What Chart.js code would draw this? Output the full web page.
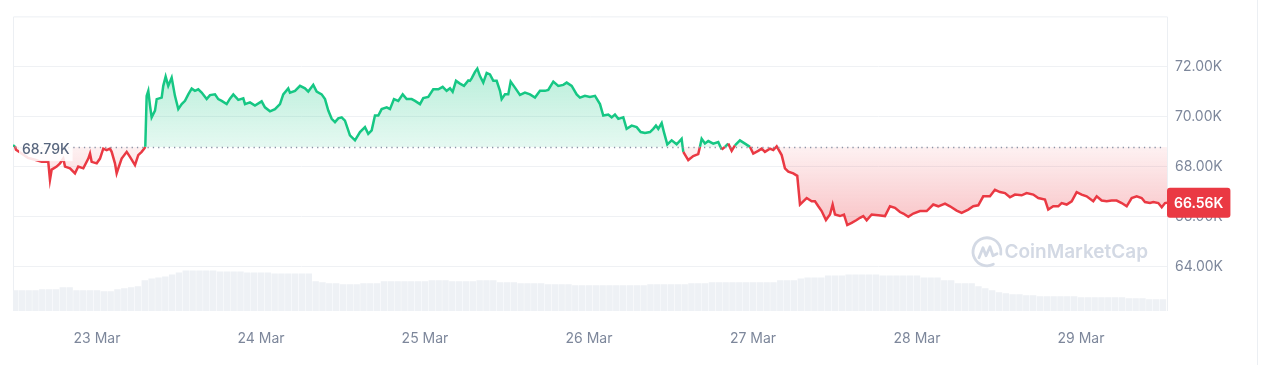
<!DOCTYPE html>
<html>
<head>
    <title>BTC price, 7 days</title>
    <meta charset="utf-8">
    <script src="https://cdn.jsdelivr.net/npm/chart.js"></script>
    <style>
        html, body {
            margin: 0;
            padding: 0;
            background: #ffffff;
        }

        #chart-container {
            position: absolute;
            top: 0;
            left: 0;
            width: 1257px;
            height: 365px;
            border-right: 1px solid #eceff3;
        }
    </style>
</head>
<body>
    <div id="chart-container">
        <canvas id="priceChart"></canvas>
    </div>
    <script>
        // hours relative to 23 Mar 00:00 and price in thousands USD
        var TIMES = [
            -12.29, -12.00, -11.85, -10.98, -10.10, -9.07, -8.09, -7.13, -6.88, -6.63,
            -5.90, -5.41, -4.93, -4.68, -3.95, -3.22, -2.74, -2.00, -1.27, -1.02,
            -0.78, -0.04, 0.44, 0.92, 1.42, 1.90, 2.15, 2.63, 2.88, 3.12,
            3.61, 4.35, 4.83, 5.56, 6.04, 6.54, 6.92, 7.07, 7.27, 7.51,
            7.76, 8.00, 8.49, 8.74, 9.47, 9.70, 10.05, 10.43, 10.93, 11.41,
            11.90, 12.40, 12.88, 13.36, 13.86, 14.34, 14.82, 15.32, 16.05, 16.54,
            17.27, 17.75, 18.25, 18.98, 19.46, 19.95, 20.68, 21.41, 21.66, 22.39,
            23.12, 24.10, 24.58, 25.32, 26.05, 26.78, 27.26, 27.99, 28.24, 28.98,
            29.71, 30.44, 30.92, 31.65, 32.15, 32.88, 33.37, 33.85, 34.35, 34.83,
            35.31, 35.81, 36.29, 37.02, 37.76, 38.49, 39.22, 39.70, 40.20, 40.68,
            41.17, 41.66, 42.40, 42.88, 43.46, 44.09, 44.74, 45.32, 46.05, 46.54,
            47.27, 47.75, 48.48, 49.21, 49.95, 50.59, 51.17, 51.66, 52.05, 52.54,
            53.12, 53.71, 54.34, 54.58, 54.83, 55.32, 55.66, 56.05, 56.53, 57.03,
            57.51, 58.00, 58.49, 58.98, 59.22, 59.71, 60.19, 60.54, 61.17, 61.90,
            62.63, 63.37, 64.10, 64.83, 65.56, 66.04, 66.78, 67.51, 68.24, 68.74,
            69.47, 70.20, 70.68, 71.41, 72.14, 72.88, 73.61, 74.09, 74.82, 75.32,
            75.80, 76.29, 77.02, 77.51, 78.25, 78.98, 79.57, 80.19, 80.93, 81.41,
            81.80, 82.14, 82.64, 82.97, 83.46, 84.10, 84.83, 85.56, 85.80, 86.53,
            87.26, 87.99, 88.24, 88.49, 88.97, 89.46, 90.19, 90.92, 91.42, 91.90,
            92.38, 92.88, 93.36, 94.09, 94.83, 95.56, 96.04, 96.77, 97.27, 97.75,
            98.48, 98.97, 99.47, 100.20, 100.68, 101.17, 101.90, 102.48, 102.88, 103.36,
            103.86, 104.59, 105.07, 105.56, 106.05, 106.68, 107.27, 107.66, 108.00, 108.73,
            109.32, 109.80, 110.44, 111.17, 111.66, 112.14, 112.64, 113.37, 114.34, 115.32,
            116.05, 116.78, 117.51, 118.00, 118.73, 119.46, 120.44, 121.42, 121.90, 122.38,
            123.12, 124.10, 124.83, 125.81, 126.54, 127.51, 128.24, 128.97, 129.70, 130.68,
            131.41, 132.15, 132.88, 133.61, 134.34, 135.32, 136.05, 137.02, 137.75, 138.73,
            139.21, 139.94, 140.68, 141.17, 141.91, 142.64, 143.37, 144.10, 144.83, 145.80,
            146.30, 147.03, 147.76, 148.49, 149.22, 149.96, 150.69, 151.42, 152.15, 152.88,
            153.37, 154.10, 154.59, 155.32, 155.82, 156.30, 156.59
        ];
        var PRICES = [
            68.86, 68.82, 68.68, 68.52, 68.36, 68.28, 68.20, 68.20, 67.48, 67.89,
            68.01, 68.14, 68.33, 68.01, 67.94, 67.74, 68.01, 67.94, 68.33, 68.53,
            68.20, 68.14, 68.33, 68.73, 68.67, 68.73, 68.60, 68.14, 67.74, 67.94,
            68.33, 68.60, 68.40, 68.07, 68.47, 68.60, 68.73, 68.80, 70.84, 71.04,
            70.45, 69.98, 70.25, 70.71, 70.77, 71.24, 71.61, 71.24, 71.57, 70.84,
            70.31, 70.51, 70.64, 70.90, 71.13, 71.04, 71.10, 70.97, 70.71, 70.87,
            70.90, 70.71, 70.64, 70.51, 70.73, 70.90, 70.68, 70.74, 70.51, 70.58,
            70.45, 70.62, 70.38, 70.22, 70.31, 70.51, 70.90, 71.14, 70.97, 71.04,
            71.24, 71.14, 71.01, 71.28, 71.01, 70.90, 70.71, 70.25, 69.92, 69.79,
            69.94, 69.98, 69.85, 69.26, 69.06, 69.39, 69.59, 69.32, 69.46, 70.05,
            70.05, 70.31, 70.38, 70.31, 70.71, 70.64, 70.90, 70.71, 70.71, 70.64,
            70.51, 70.75, 70.80, 71.10, 71.10, 71.20, 71.04, 71.14, 71.00, 71.44,
            71.33, 71.24, 71.46, 71.44, 71.54, 71.80, 71.93, 71.63, 71.37, 71.76,
            71.70, 71.44, 71.44, 71.04, 70.71, 70.90, 70.90, 71.41, 71.17, 70.88,
            70.97, 70.90, 70.77, 71.04, 71.04, 71.08, 71.41, 71.24, 71.28, 71.37,
            71.24, 70.90, 70.77, 70.84, 70.80, 70.84, 70.51, 70.05, 70.09, 69.98,
            70.09, 69.92, 69.98, 69.52, 69.65, 69.59, 69.39, 69.35, 69.39, 69.52,
            69.65, 69.52, 69.75, 69.39, 68.90, 69.06, 68.90, 69.12, 68.60, 68.27,
            68.43, 68.51, 68.80, 69.12, 68.93, 69.03, 68.93, 68.99, 68.69, 68.80,
            68.93, 68.64, 68.86, 69.06, 68.93, 68.80, 68.53, 68.64, 68.73, 68.60,
            68.73, 68.67, 68.82, 68.47, 67.94, 67.81, 67.74, 67.64, 66.49, 66.62,
            66.75, 66.62, 66.62, 66.42, 66.23, 65.87, 66.09, 66.49, 66.09, 66.03,
            66.09, 65.67, 65.76, 65.87, 65.96, 66.03, 65.86, 66.09, 66.06, 66.03,
            66.42, 66.36, 66.19, 66.13, 66.00, 66.13, 66.23, 66.23, 66.36, 66.49,
            66.42, 66.53, 66.42, 66.25, 66.16, 66.29, 66.42, 66.46, 66.82, 66.82,
            67.08, 66.99, 66.95, 66.78, 66.89, 66.86, 66.95, 66.89, 66.75, 66.69,
            66.29, 66.42, 66.42, 66.55, 66.49, 66.62, 66.99, 66.89, 66.82, 66.62,
            66.82, 66.65, 66.62, 66.65, 66.65, 66.55, 66.42, 66.75, 66.82, 66.75,
            66.59, 66.55, 66.59, 66.55, 66.38, 66.55, 66.56
        ];

        // hourly volume (billions USD), first bar at 22 Mar 12:00
        var VOLUME_START = -12;
        var VOLUMES = [
            21, 21, 21, 21, 22, 22, 22, 24, 24, 21, 21, 21,
            21, 20, 20, 22, 23, 24, 25, 31, 33, 34, 35, 37, 39, 41, 41, 41, 41, 41, 40, 40, 40, 40, 39, 39,
            39, 39, 38, 38, 38, 38, 38, 38, 30, 29, 28, 28, 27, 27, 27, 28, 28, 28, 30, 30, 30, 30, 30, 30,
            30, 31, 31, 31, 30, 30, 30, 30, 31, 31, 31, 29, 29, 29, 28, 28, 28, 28, 27, 27, 27, 27, 26, 26,
            26, 26, 26, 26, 26, 26, 26, 26, 26, 27, 27, 27, 27, 27, 27, 28, 28, 28, 29, 29, 29, 29, 29, 29,
            29, 29, 29, 29, 31, 31, 31, 33, 34, 34, 34, 36, 36, 36, 37, 37, 37, 37, 37, 36, 36, 36, 36, 36,
            36, 34, 34, 34, 31, 31, 28, 28, 28, 25, 23, 21, 19, 18, 17, 17, 16, 16, 15, 15, 15, 15, 15, 15,
            14, 14, 14, 14, 14, 14, 14, 13, 13, 13, 12, 12, 12
        ];

        var DAY_TICKS = [0, 24, 48, 72, 96, 120, 144];
        var DAY_LABELS = ['23 Mar', '24 Mar', '25 Mar', '26 Mar', '27 Mar', '28 Mar', '29 Mar'];
        var PRICE_TICKS = [64, 66, 68, 70, 72];

        var OPEN_PRICE = 68.79;
        var LAST_PRICE = 66.56;
        var X_MIN = -12.29, X_MAX = 156.59;
        var Y_MIN = 62.23, Y_MAX = 74.02;
        var VOL_MAX = 298;

        var GREEN = '#16c784';
        var RED = '#ea3943';
        var TEXT_GREY = '#7d879b';

        Chart.defaults.font.family = 'Inter, "Noto Sans", sans-serif';

        var pricePoints = TIMES.map(function (t, i) {
            return { x: t, y: PRICES[i] };
        });
        var volumePoints = VOLUMES.map(function (v, i) {
            return { x: VOLUME_START + i, y: v };
        });

        // gradient fill above / below the opening price
        function priceFill(context) {
            var chart = context.chart;
            var y = chart.scales.y;
            if (!chart.chartArea || !y) {
                return { target: { value: OPEN_PRICE }, above: 'rgba(22,199,132,0.2)', below: 'rgba(234,57,67,0.15)' };
            }
            var c = chart.ctx;
            var yBase = y.getPixelForValue(OPEN_PRICE);
            var up = c.createLinearGradient(0, y.getPixelForValue(Math.max.apply(null, PRICES)), 0, yBase);
            up.addColorStop(0, 'rgba(22,199,132,0.30)');
            up.addColorStop(1, 'rgba(22,199,132,0.11)');
            var down = c.createLinearGradient(0, yBase, 0, y.getPixelForValue(Math.min.apply(null, PRICES)));
            down.addColorStop(0, 'rgba(234,57,67,0.07)');
            down.addColorStop(1, 'rgba(234,57,67,0.30)');
            return { target: { value: OPEN_PRICE }, above: up, below: down };
        }

        // frame, dotted open line, price tags and watermark
        var decorations = {
            id: 'decorations',
            beforeDatasetsDraw: function (chart) {
                var a = chart.chartArea, c = chart.ctx;
                c.save();
                c.strokeStyle = '#eceff3';
                c.lineWidth = 1;
                c.beginPath();
                c.moveTo(a.left + 0.5, a.bottom);
                c.lineTo(a.left + 0.5, a.top + 0.5);
                c.lineTo(a.right + 0.5, a.top + 0.5);
                c.lineTo(a.right + 0.5, a.bottom);
                c.stroke();

                // watermark
                var wy = chart.scales.y.getPixelForValue(64.6);
                c.strokeStyle = '#d3d9e4';
                c.fillStyle = '#d3d9e4';
                c.lineWidth = 2.8;
                c.lineCap = 'round';
                c.lineJoin = 'round';
                var cx = a.right - 180, r = 14;
                c.beginPath();
                c.arc(cx, wy, r, Math.PI * 0.35, Math.PI * 0.15 + Math.PI * 2 - 0.3, false);
                c.stroke();
                c.beginPath();
                c.moveTo(cx - 8, wy + 6);
                c.lineTo(cx - 4, wy - 4);
                c.lineTo(cx - 1, wy + 4);
                c.lineTo(cx + 3, wy - 5);
                c.lineTo(cx + 6, wy + 4);
                c.lineTo(cx + 10, wy + 2);
                c.stroke();
                c.font = '600 19px Inter, sans-serif';
                c.textAlign = 'right';
                c.textBaseline = 'middle';
                c.fillText('CoinMarketCap', a.right - 19, wy + 1);
                c.restore();
            },
            afterDatasetsDraw: function (chart) {
                var a = chart.chartArea, c = chart.ctx;
                var yBase = Math.round(chart.scales.y.getPixelForValue(OPEN_PRICE)) + 0.5;
                c.save();
                c.strokeStyle = '#8a93a6';
                c.lineWidth = 1.3;
                c.setLineDash([1.3, 4]);
                c.beginPath();
                c.moveTo(a.left + 2, yBase);
                c.lineTo(a.right - 2, yBase);
                c.stroke();
                c.restore();
            },
            afterDraw: function (chart) {
                var a = chart.chartArea, c = chart.ctx;
                var y = chart.scales.y;
                c.save();
                // open price tag on the left
                var yBase = y.getPixelForValue(OPEN_PRICE);
                var openText = OPEN_PRICE.toFixed(2) + 'K';
                c.font = '500 14px Inter, sans-serif';
                var w = c.measureText(openText).width;
                c.fillStyle = 'rgba(255,255,255,0.86)';
                c.fillRect(a.left + 6, yBase - 8, w + 6, 22);
                c.fillStyle = '#58667e';
                c.textAlign = 'left';
                c.textBaseline = 'middle';
                c.fillText(openText, a.left + 9, yBase + 3);

                // last price tag on the axis
                var yLast = y.getPixelForValue(LAST_PRICE);
                var lastText = LAST_PRICE.toFixed(2) + 'K';
                c.font = '600 14px Inter, sans-serif';
                var lw = c.measureText(lastText).width;
                var bw = lw + 14, bh = 30;
                c.fillStyle = RED;
                c.beginPath();
                c.roundRect(a.right, yLast - bh / 2, bw, bh, 3);
                c.fill();
                c.fillStyle = '#ffffff';
                c.textAlign = 'center';
                c.fillText(lastText, a.right + bw / 2, yLast + 1);
                c.restore();
            }
        };

        var ctx = document.getElementById('priceChart').getContext('2d');
        var priceChart = new Chart(ctx, {
            type: 'line',
            data: {
                datasets: [{
                    type: 'line',
                    label: 'Price',
                    data: pricePoints,
                    yAxisID: 'y',
                    order: 1,
                    borderWidth: 2.5,
                    borderColor: GREEN,
                    pointRadius: 0,
                    tension: 0,
                    fill: priceFill,
                    segment: {
                        borderColor: function (s) {
                            return (s.p0.parsed.y + s.p1.parsed.y) / 2 >= OPEN_PRICE ? GREEN : RED;
                        }
                    }
                }, {
                    type: 'bar',
                    label: 'Volume',
                    data: volumePoints,
                    yAxisID: 'yv',
                    order: 2,
                    backgroundColor: '#eef1f5',
                    barPercentage: 0.94,
                    categoryPercentage: 1
                }]
            },
            options: {
                responsive: true,
                maintainAspectRatio: false,
                animation: false,
                layout: {
                    padding: { left: 13, top: 13, right: 0, bottom: 0 }
                },
                plugins: {
                    legend: { display: false },
                    tooltip: { enabled: false }
                },
                scales: {
                    x: {
                        type: 'linear',
                        min: X_MIN,
                        max: X_MAX,
                        offset: false,
                        grid: { display: false },
                        border: { display: false },
                        afterBuildTicks: function (scale) {
                            scale.ticks = DAY_TICKS.map(function (v) { return { value: v }; });
                        },
                        afterFit: function (scale) {
                            scale.height = 54;
                        },
                        ticks: {
                            color: TEXT_GREY,
                            font: { size: 14 },
                            padding: 11,
                            maxRotation: 0,
                            autoSkip: false,
                            callback: function (value) {
                                var i = DAY_TICKS.indexOf(value);
                                return i >= 0 ? DAY_LABELS[i] : '';
                            }
                        }
                    },
                    y: {
                        position: 'right',
                        min: Y_MIN,
                        max: Y_MAX,
                        grid: { color: '#eff1f4', drawTicks: false },
                        border: { display: false },
                        afterBuildTicks: function (scale) {
                            scale.ticks = PRICE_TICKS.map(function (v) { return { value: v }; });
                        },
                        afterFit: function (scale) {
                            scale.width = 90;
                        },
                        ticks: {
                            color: TEXT_GREY,
                            font: { size: 14 },
                            padding: 8,
                            callback: function (value) {
                                return value.toFixed(2) + 'K';
                            }
                        }
                    },
                    yv: {
                        display: false,
                        min: 0,
                        max: VOL_MAX
                    }
                }
            },
            plugins: [decorations]
        });
    </script>
</body>
</html>
